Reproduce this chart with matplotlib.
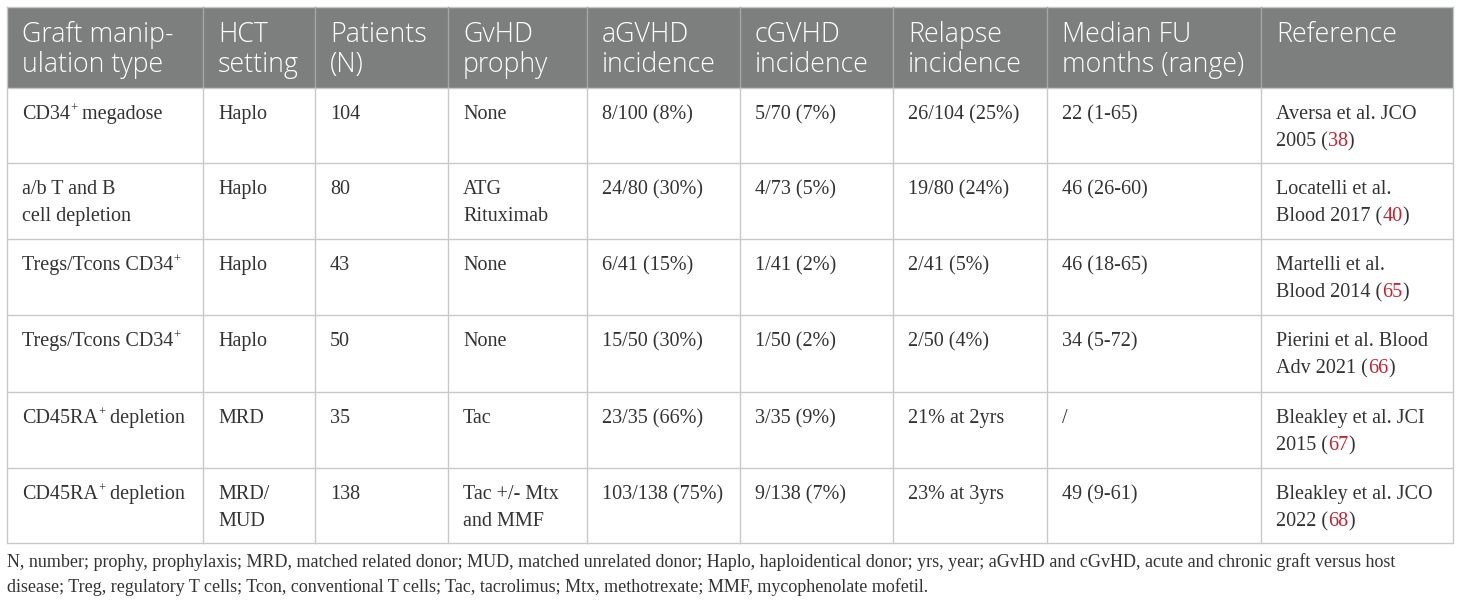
import matplotlib
matplotlib.use("Agg")
import matplotlib.pyplot as plt
from matplotlib.patches import Rectangle

# ---------------- data ----------------
headers = ["Graft manip-\nulation type", "HCT\nsetting", "Patients\n(N)", "GvHD\nprophy",
           "aGVHD\nincidence", "cGVHD\nincidence", "Relapse\nincidence",
           "Median FU\nmonths (range)", "Reference"]
graft_type = ["CD34^+ megadose", "a/b T and B\ncell depletion", "Tregs/Tcons CD34^+",
              "Tregs/Tcons CD34^+", "CD45RA^+ depletion", "CD45RA^+ depletion"]
hct_setting = ["Haplo", "Haplo", "Haplo", "Haplo", "MRD", "MRD/\nMUD"]
patients = [104, 80, 43, 50, 35, 138]
gvhd_prophy = ["None", "ATG\nRituximab", "None", "None", "Tac", "Tac +/- Mtx\nand MMF"]
agvhd = ["8/100 (8%)", "24/80 (30%)", "6/41 (15%)", "15/50 (30%)", "23/35 (66%)", "103/138 (75%)"]
cgvhd = ["5/70 (7%)", "4/73 (5%)", "1/41 (2%)", "1/50 (2%)", "3/35 (9%)", "9/138 (7%)"]
relapse = ["26/104 (25%)", "19/80 (24%)", "2/41 (5%)", "2/50 (4%)", "21% at 2yrs", "23% at 3yrs"]
median_fu = ["22 (1-65)", "46 (26-60)", "46 (18-65)", "34 (5-72)", "/", "49 (9-61)"]
ref_text = ["Aversa et al. JCO\n2005", "Locatelli et al.\nBlood 2017", "Martelli et al.\nBlood 2014",
            "Pierini et al. Blood\nAdv 2021", "Bleakley et al. JCI\n2015", "Bleakley et al. JCO\n2022"]
ref_num = [38, 40, 65, 66, 67, 68]
footnote = ["N, number; prophy, prophylaxis; MRD, matched related donor; MUD, matched unrelated donor; "
            "Haplo, haploidentical donor; yrs, year; aGvHD and cGvHD, acute and chronic graft versus host",
            "disease; Treg, regulatory T cells; Tcon, conventional T cells; Tac, tacrolimus; Mtx, "
            "methotrexate; MMF, mycophenolate mofetil."]

# ---------------- layout / style ----------------
W, H = 1460, 605
col_edges = [7, 203, 315, 448, 587, 740, 893, 1047, 1261, 1453]
row_edges = [7, 88, 163, 239, 315, 392, 468, 543]
pad_x = 15
header_bg = "#7d7f7e"
grid_col = "#c8c8c8"
text_col = "#333333"
red_col = "#cc2030"
head_font = "Open Sans"
body_font = "Liberation Serif"
head_size = 19.3
body_size = 14.5
foot_size = 13.0

fig = plt.figure(figsize=(W / 100, H / 100), dpi=100)
ax = fig.add_axes([0, 0, 1, 1])
ax.set_xlim(0, W)
ax.set_ylim(H, 0)
ax.axis("off")
renderer = fig.canvas.get_renderer()

# header background
ax.add_patch(Rectangle((col_edges[0], row_edges[0]), col_edges[-1] - col_edges[0],
                       row_edges[1] - row_edges[0], facecolor=header_bg, edgecolor="none", zorder=0))

# grid lines
lw = 1.0
for y in row_edges[1:]:
    ax.plot([col_edges[0], col_edges[-1]], [y, y], color=grid_col, lw=lw, zorder=1,
            solid_capstyle="butt")
ax.plot([col_edges[0], col_edges[-1]], [row_edges[0], row_edges[0]], color=grid_col, lw=lw, zorder=1)
for i, x in enumerate(col_edges):
    if i in (0, len(col_edges) - 1):
        ax.plot([x, x], [row_edges[0], row_edges[-1]], color=grid_col, lw=lw, zorder=1)
    else:
        ax.plot([x, x], [row_edges[0], row_edges[1]], color="#a5a7a6", lw=lw, zorder=1)
        ax.plot([x, x], [row_edges[1], row_edges[-1]], color=grid_col, lw=lw, zorder=1)


def measure(s, size, family):
    t = ax.text(0, 0, s, fontsize=size, family=family)
    w = t.get_window_extent(renderer).width
    t.remove()
    return w


def advance(s, size, family):
    return measure("|" + s + "|", size, family) - measure("||", size, family)


def draw_segments(x, y, segs, size, family):
    for text, color, scale, dy in segs:
        ax.text(x, y - dy, text, fontsize=size * scale, color=color, family=family,
                va="baseline", ha="left", zorder=3)
        x += advance(text, size * scale, family)


def parse_sup(line, color):
    parts = line.split("^+")
    segs = []
    for k, p in enumerate(parts):
        if p:
            segs.append((p, color, 1.0, 0))
        if k < len(parts) - 1:
            segs.append(("+", color, 0.62, 7))
    return segs


# header text
head_base = 42
head_step = 30
for c, h in enumerate(headers):
    for k, line in enumerate(h.split("\n")):
        ax.text(col_edges[c] + pad_x, head_base + k * head_step,
                line, fontsize=head_size, family=head_font, fontweight="light",
                color="white", va="baseline", ha="left")

# body
body_first = 31
body_step = 27
columns = [graft_type, hct_setting, [str(p) for p in patients], gvhd_prophy, agvhd, cgvhd,
           relapse, median_fu]
for r in range(len(patients)):
    top = row_edges[r + 1]
    for c, col in enumerate(columns):
        for k, line in enumerate(col[r].split("\n")):
            draw_segments(col_edges[c] + pad_x, top + body_first + k * body_step,
                          parse_sup(line, text_col), body_size, body_font)
    lines = ref_text[r].split("\n")
    for k, line in enumerate(lines):
        segs = [(line, text_col, 1.0, 0)]
        if k == len(lines) - 1:
            segs = [(line + " (", text_col, 1.0, 0), (str(ref_num[r]), red_col, 1.0, 0),
                    (")", text_col, 1.0, 0)]
        draw_segments(col_edges[8] + pad_x, top + body_first + k * body_step, segs,
                      body_size, body_font)

# footnote
foot_base = [567, 592]
for k, line in enumerate(footnote):
    ax.text(col_edges[0], foot_base[k], line, fontsize=foot_size, family=body_font,
            color=text_col, va="baseline", ha="left")

fig.savefig("out.png", dpi=100)
